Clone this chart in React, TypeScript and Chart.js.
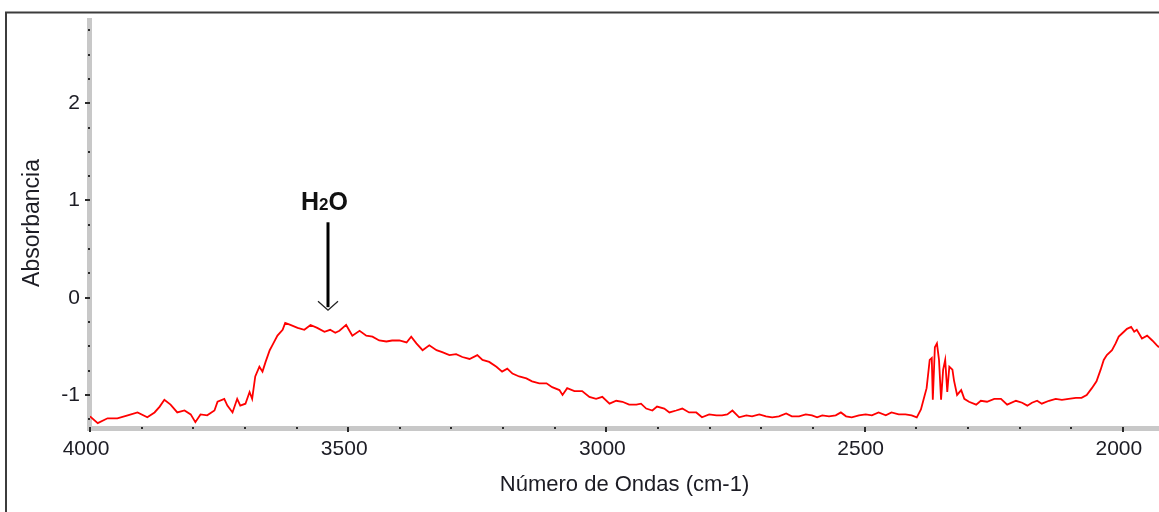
import React, { useEffect, useRef } from "react";
import { Chart, registerables } from "chart.js";

Chart.register(...registerables);

// Wavenumber (cm-1), from 4000 down to the right edge
const wavenumbers = [
  4000, 3985, 3966, 3947, 3927, 3908, 3889, 3875, 3865, 3856, 3844, 3831, 3817, 3805, 3796, 3786,
  3773, 3759, 3753, 3740, 3734, 3724, 3715, 3709, 3699, 3691, 3686, 3680, 3672, 3666, 3660, 3652,
  3647, 3637, 3627, 3622, 3612, 3598, 3585, 3573, 3560, 3546, 3535, 3525, 3517, 3504, 3492, 3478,
  3465, 3453, 3440, 3426, 3415, 3401, 3387, 3378, 3368, 3356, 3343, 3329, 3318, 3304, 3291, 3279,
  3265, 3250, 3240, 3227, 3213, 3202, 3192, 3182, 3169, 3155, 3144, 3130, 3116, 3105, 3091, 3085,
  3076, 3062, 3047, 3033, 3020, 3008, 2994, 2981, 2969, 2956, 2942, 2933, 2923, 2911, 2902, 2888,
  2878, 2865, 2853, 2840, 2826, 2815, 2801, 2787, 2776, 2766, 2756, 2743, 2729, 2718, 2704, 2691,
  2679, 2666, 2652, 2641, 2627, 2614, 2602, 2592, 2582, 2569, 2556, 2546, 2536, 2525, 2511, 2498,
  2486, 2473, 2459, 2448, 2434, 2421, 2409, 2399, 2391, 2386, 2380, 2374, 2370, 2368, 2364, 2360,
  2356, 2352, 2348, 2344, 2340, 2336, 2330, 2327, 2321, 2313, 2307, 2298, 2284, 2275, 2263, 2249,
  2236, 2224, 2207, 2195, 2185, 2176, 2166, 2157, 2143, 2130, 2118, 2105, 2091, 2080, 2070, 2060,
  2051, 2043, 2037, 2031, 2021, 2014, 2008, 1998, 1992, 1984, 1978, 1973, 1963, 1953, 1943, 1934,
  1930,
];

// Absorbance values matching the wavenumbers above
const absorbance = [
  -1.22, -1.29, -1.24, -1.24, -1.21, -1.18, -1.23, -1.18, -1.12, -1.05, -1.1, -1.18, -1.16, -1.2, -1.28, -1.2,
  -1.21, -1.16, -1.07, -1.04, -1.11, -1.18, -1.04, -1.11, -1.09, -0.97, -1.04, -0.81, -0.71, -0.76, -0.66, -0.54,
  -0.49, -0.39, -0.33, -0.26, -0.28, -0.31, -0.33, -0.28, -0.31, -0.35, -0.33, -0.36, -0.34, -0.28, -0.39, -0.34,
  -0.39, -0.4, -0.44, -0.45, -0.44, -0.44, -0.46, -0.4, -0.47, -0.54, -0.49, -0.54, -0.56, -0.59, -0.58, -0.61,
  -0.63, -0.59, -0.64, -0.66, -0.71, -0.76, -0.73, -0.78, -0.81, -0.83, -0.86, -0.88, -0.88, -0.92, -0.95, -1.0,
  -0.93, -0.96, -0.96, -1.02, -1.04, -1.02, -1.09, -1.06, -1.07, -1.1, -1.1, -1.09, -1.14, -1.16, -1.12, -1.14,
  -1.18, -1.16, -1.14, -1.18, -1.18, -1.23, -1.2, -1.21, -1.21, -1.2, -1.16, -1.23, -1.21, -1.22, -1.2, -1.22,
  -1.23, -1.22, -1.19, -1.22, -1.22, -1.2, -1.21, -1.23, -1.21, -1.22, -1.21, -1.18, -1.22, -1.23, -1.21, -1.2,
  -1.21, -1.18, -1.21, -1.18, -1.2, -1.2, -1.21, -1.23, -1.15, -1.05, -0.93, -0.64, -0.62, -1.05, -0.51, -0.47,
  -0.64, -1.05, -0.74, -0.64, -0.97, -0.71, -0.74, -0.85, -1.0, -0.95, -1.04, -1.07, -1.1, -1.06, -1.07, -1.04,
  -1.04, -1.1, -1.06, -1.08, -1.11, -1.08, -1.06, -1.09, -1.06, -1.04, -1.05, -1.04, -1.03, -1.03, -1.0, -0.93,
  -0.86, -0.74, -0.64, -0.59, -0.54, -0.47, -0.4, -0.35, -0.32, -0.3, -0.35, -0.33, -0.42, -0.39, -0.44, -0.49,
  -0.51,
];

// Labelled ticks
const xTickLabels = [2000, 2500, 3000, 3500, 4000];
const yTickLabels = [-1, 0, 1, 2];

const X_MIN = 1930;
const X_MAX = 4000;
const X_MAJOR = 500;
const X_MINOR = 100;
const Y_MIN = -1.34;
const Y_MAX = 2.877;
const Y_MAJOR = 1;
const Y_MINOR = 0.25;

const X_TITLE = "Número de Ondas (cm-1)";
const Y_TITLE = "Absorbancia";

// Annotation: "H2O" with an arrow pointing down at the band
const ANNOT_MAIN = "H";
const ANNOT_SUB = "2";
const ANNOT_END = "O";
const ANNOT_TEXT_WAVENUMBER = 3546;
const ANNOT_ARROW_WAVENUMBER = 3540;
const ANNOT_TEXT_BASELINE = 0.906;
const ARROW_TOP = 0.776;
const ARROW_TIP = -0.128;

const FONT = "'Liberation Sans', Arial, sans-serif";

const decorPlugin = {
  id: "decor",
  beforeDatasetsDraw(chart: any) {
    const { ctx, chartArea, scales } = chart;
    const { left, right, top, bottom } = chartArea;
    const x = scales.x;
    const y = scales.y;
    ctx.save();
    // outer frame
    ctx.strokeStyle = "#3c3c3c";
    ctx.lineWidth = 2;
    ctx.beginPath();
    ctx.moveTo(6, chart.height);
    ctx.lineTo(6, 12.5);
    ctx.lineTo(chart.width, 12.5);
    ctx.stroke();
    // axis bands
    ctx.fillStyle = "#c8c8c8";
    ctx.fillRect(left - 3, top, 5, bottom - top + 3);
    ctx.fillRect(left - 3, bottom - 2, right - left + 3, 5);
    ctx.fillStyle = "#2a2a2a";
    // y ticks
    const ky0 = Math.ceil(Y_MIN / Y_MINOR);
    const ky1 = Math.floor(Y_MAX / Y_MINOR);
    const perMajorY = Math.round(Y_MAJOR / Y_MINOR);
    for (let k = ky0; k <= ky1; k++) {
      const py = Math.round(y.getPixelForValue(k * Y_MINOR));
      if (k % perMajorY === 0) {
        ctx.fillRect(left - 5, py - 1, 5, 2);
      } else {
        ctx.fillRect(left - 2, py - 1, 2, 2);
      }
    }
    // x ticks
    const kx0 = Math.ceil(X_MIN / X_MINOR);
    const kx1 = Math.floor(X_MAX / X_MINOR);
    const perMajorX = Math.round(X_MAJOR / X_MINOR);
    for (let k = kx0; k <= kx1; k++) {
      const px = Math.round(x.getPixelForValue(k * X_MINOR));
      if (k % perMajorX === 0) {
        ctx.fillRect(px - 1, bottom - 1, 2, 5);
      } else {
        ctx.fillRect(px - 1, bottom - 1, 2, 2);
      }
    }
    ctx.restore();
  },
  afterDatasetsDraw(chart: any) {
    const { ctx, scales } = chart;
    const x = scales.x;
    const y = scales.y;
    ctx.save();
    const tcx = x.getPixelForValue(ANNOT_TEXT_WAVENUMBER);
    const cx = Math.round(x.getPixelForValue(ANNOT_ARROW_WAVENUMBER));
    // text H2O
    const big = `bold 25px ${FONT}`;
    const small = `bold 17px ${FONT}`;
    ctx.font = big;
    const wH = ctx.measureText(ANNOT_MAIN).width;
    const wO = ctx.measureText(ANNOT_END).width;
    ctx.font = small;
    const w2 = ctx.measureText(ANNOT_SUB).width;
    const total = wH + w2 + wO;
    const base = y.getPixelForValue(ANNOT_TEXT_BASELINE);
    let tx = tcx - total / 2;
    ctx.fillStyle = "#111";
    ctx.textBaseline = "alphabetic";
    ctx.textAlign = "left";
    ctx.font = big;
    ctx.fillText(ANNOT_MAIN, tx, base);
    tx += wH;
    ctx.font = small;
    ctx.fillText(ANNOT_SUB, tx, base);
    tx += w2;
    ctx.font = big;
    ctx.fillText(ANNOT_END, tx, base);
    // arrow
    const yTop = y.getPixelForValue(ARROW_TOP);
    const yTip = y.getPixelForValue(ARROW_TIP);
    ctx.strokeStyle = "#000";
    ctx.lineWidth = 3;
    ctx.beginPath();
    ctx.moveTo(cx, yTop);
    ctx.lineTo(cx, yTip - 3);
    ctx.stroke();
    ctx.strokeStyle = "#222";
    ctx.lineWidth = 1.3;
    ctx.beginPath();
    ctx.moveTo(cx - 10, yTip - 9);
    ctx.lineTo(cx, yTip);
    ctx.lineTo(cx + 10, yTip - 9);
    ctx.stroke();
    ctx.restore();
  },
};

export default function App() {
  const canvasRef = useRef<HTMLCanvasElement | null>(null);

  useEffect(() => {
    document.body.style.margin = "0";
    const canvas = canvasRef.current;
    if (!canvas) return;
    const points = wavenumbers.map((w, i) => ({ x: w, y: absorbance[i] }));
    const chart = new Chart(canvas, {
      type: "line",
      data: {
        datasets: [
          {
            data: points,
            borderColor: "#ff0000",
            borderWidth: 1.8,
            pointRadius: 0,
            tension: 0,
            fill: false,
          },
        ],
      },
      options: {
        animation: false,
        responsive: false,
        maintainAspectRatio: false,
        layout: { padding: { top: 18, left: 0, right: 0, bottom: 0 } },
        plugins: {
          legend: { display: false },
          tooltip: { enabled: false },
        },
        scales: {
          x: {
            type: "linear",
            reverse: true,
            min: X_MIN,
            max: X_MAX,
            grid: { display: false, drawTicks: false },
            border: { display: false },
            afterBuildTicks: (scale: any) => {
              scale.ticks = xTickLabels.map((v) => ({ value: v }));
            },
            ticks: {
              autoSkip: false,
              maxRotation: 0,
              padding: 9,
              labelOffset: -4,
              color: "#1c1c24",
              font: { family: FONT, size: 21 },
              callback: (v: any) => String(v),
            },
            title: {
              display: true,
              text: X_TITLE,
              color: "#1c1c24",
              font: { family: FONT, size: 22 },
              padding: { top: 14, bottom: 14 },
            },
            afterFit: (scale: any) => {
              scale.height = 84;
              scale.paddingLeft = 0;
              scale.paddingRight = 0;
            },
          },
          y: {
            type: "linear",
            min: Y_MIN,
            max: Y_MAX,
            grid: { display: false, drawTicks: false },
            border: { display: false },
            afterBuildTicks: (scale: any) => {
              scale.ticks = yTickLabels.map((v) => ({ value: v }));
            },
            ticks: {
              padding: 10,
              color: "#1c1c24",
              font: { family: FONT, size: 21 },
              callback: (v: any) => String(v),
            },
            title: {
              display: true,
              text: Y_TITLE,
              color: "#1c1c24",
              font: { family: FONT, size: 23 },
              padding: { top: 19, bottom: 19 },
            },
            afterFit: (scale: any) => {
              scale.width = 90;
              scale.paddingTop = 0;
              scale.paddingBottom = 0;
            },
          },
        },
      },
      plugins: [decorPlugin],
    });
    return () => chart.destroy();
  }, []);

  return (
    <div style={{ width: 1159, height: 512, background: "#fff" }}>
      <canvas ref={canvasRef} width={1159} height={512} style={{ display: "block" }} />
    </div>
  );
}
